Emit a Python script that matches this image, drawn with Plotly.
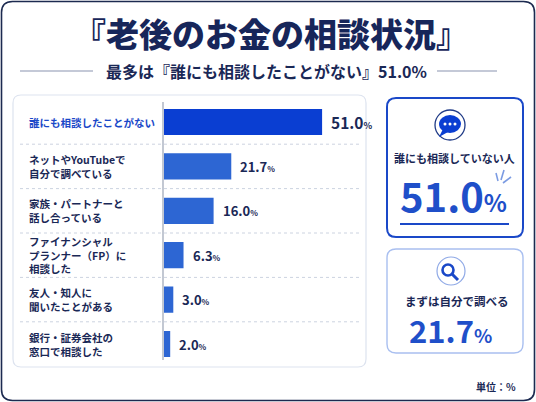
import plotly.graph_objects as go

# ---------------- data ----------------
categories = [
    "誰にも相談したことがない",
    "ネットやYouTubeで<br>自分で調べている",
    "家族・パートナーと<br>話し合っている",
    "ファイナンシャル<br>プランナー（FP）に<br>相談した",
    "友人・知人に<br>聞いたことがある",
    "銀行・証券会社の<br>窓口で相談した",
]
values = [51.0, 21.7, 16.0, 6.3, 3.0, 2.0]
title_text = "『老後のお金の相談状況』"
subtitle_text = "最多は『誰にも相談したことがない』51.0%"
card1_label = "誰にも相談していない人"
card1_value = 51.0
card2_label = "まずは自分で調べる"
card2_value = 21.7
unit_text = "単位：%"

# ---------------- style ----------------
W, H = 536, 402
FONT = "Noto Sans CJK JP, Noto Sans, sans-serif"
NAVY = "#1a2856"
BLUE_MAIN = "#0a3ed2"
BLUE_BAR = "#2d66d3"
BLUE_TEXT = "#1a48c8"
BLUE_BIG = "#1f4fc9"


def X(px):
    return px / W


def Y(py):
    return 1 - py / H


def rrect(x0, y0, x1, y1, r):
    return (
        f"M {X(x0 + r)},{Y(y0)} L {X(x1 - r)},{Y(y0)} "
        f"Q {X(x1)},{Y(y0)} {X(x1)},{Y(y0 + r)} L {X(x1)},{Y(y1 - r)} "
        f"Q {X(x1)},{Y(y1)} {X(x1 - r)},{Y(y1)} L {X(x0 + r)},{Y(y1)} "
        f"Q {X(x0)},{Y(y1)} {X(x0)},{Y(y1 - r)} L {X(x0)},{Y(y0 + r)} "
        f"Q {X(x0)},{Y(y0)} {X(x0 + r)},{Y(y0)} Z"
    )


def circ(cx, cy, r, **kw):
    d = dict(type="circle", xref="paper", yref="paper",
             x0=X(cx - r), x1=X(cx + r), y0=Y(cy + r), y1=Y(cy - r))
    d.update(kw)
    return d


def pline(x0, y0, x1, y1, color, width, dash="solid", layer="above"):
    return dict(type="line", xref="paper", yref="paper",
                x0=X(x0), y0=Y(y0), x1=X(x1), y1=Y(y1),
                line=dict(color=color, width=width, dash=dash), layer=layer)


colors = [BLUE_MAIN] + [BLUE_BAR] * (len(values) - 1)

fig = go.Figure()
fig.add_trace(go.Bar(
    x=values, y=categories, orientation="h",
    marker=dict(color=colors, line=dict(width=0)),
    width=0.59, hoverinfo="skip",
))

row_h = 44.4
plot_top = 122 - row_h / 2
plot_bot = plot_top + row_h * len(categories)
x_px0, x_px1 = 164, 360
px_per_unit = 3.1

fig.update_layout(
    width=W, height=H, autosize=False,
    margin=dict(l=0, r=0, t=0, b=0),
    paper_bgcolor="white", plot_bgcolor="rgba(0,0,0,0)",
    showlegend=False,
    font=dict(family=FONT, color=NAVY),
    xaxis=dict(domain=[X(x_px0), X(x_px1)],
               range=[0, (x_px1 - x_px0) / px_per_unit],
               visible=False, fixedrange=True),
    yaxis=dict(domain=[Y(plot_bot), Y(plot_top)], type="category",
               range=[len(categories) - 0.5, -0.5],
               visible=False, fixedrange=True),
)

shapes = []
# outer frame
shapes.append(dict(type="path", xref="paper", yref="paper",
                   path=rrect(1.5, 1.5, W - 1.5, H - 1.5, 11),
                   line=dict(color="#1c2a50", width=1.6),
                   fillcolor="white", layer="below"))
# left panel
shapes.append(dict(type="path", xref="paper", yref="paper",
                   path=rrect(13, 95, 366, 367, 8),
                   line=dict(color="#dde3ef", width=1.2),
                   fillcolor="white", layer="below"))
# subtitle rules
shapes.append(pline(20, 71, 93, 71, "#8a94b0", 1.2))
shapes.append(pline(437, 71, 497, 71, "#8a94b0", 1.2))
# row separators
for i in range(len(categories) - 1):
    shapes.append(dict(type="line", xref="paper", yref="y",
                       x0=X(20), x1=X(362), y0=i + 0.5, y1=i + 0.5,
                       line=dict(color="#ccd3e0", width=1, dash="dot"),
                       layer="below"))
# axis line
shapes.append(pline(163, 102, 163, 360, "#9aa3b5", 1.2))

# card 1
shapes.append(dict(type="path", xref="paper", yref="paper",
                   path=rrect(387, 98, 523, 237, 9),
                   line=dict(color=BLUE_TEXT, width=2),
                   fillcolor="white", layer="below"))
shapes.append(circ(450, 125, 15, line=dict(color="#1f3a86", width=1.3),
                   fillcolor="white"))
shapes.append(dict(type="path", xref="paper", yref="paper",
                   path=f"M {X(443)},{Y(129)} L {X(439)},{Y(137)} L {X(448)},{Y(132)} Z",
                   line=dict(width=0), fillcolor=BLUE_MAIN))
shapes.append(dict(type="circle", xref="paper", yref="paper",
                   x0=X(439), x1=X(461), y0=Y(133), y1=Y(115),
                   line=dict(width=0), fillcolor=BLUE_MAIN))
for dx in (-5, 0, 5):
    shapes.append(circ(450 + dx, 124, 1.5, line=dict(width=0), fillcolor="white"))
shapes.append(pline(400, 224, 509, 224, BLUE_TEXT, 2))
# sparkle
shapes.append(pline(496, 173, 498, 181, "#7b9be2", 1.6))
shapes.append(pline(504, 170, 501, 180, "#7b9be2", 1.6))
shapes.append(pline(511, 177, 503, 183, "#7b9be2", 1.6))

# card 2
shapes.append(dict(type="path", xref="paper", yref="paper",
                   path=rrect(387, 249, 523, 353, 9),
                   line=dict(color="#a9bff0", width=1.4),
                   fillcolor="white", layer="below"))
shapes.append(circ(451, 271, 14, line=dict(color="#8fa9e6", width=1.2),
                   fillcolor="white"))
shapes.append(circ(448, 270, 5.5, line=dict(color=BLUE_TEXT, width=2.6),
                   fillcolor="rgba(0,0,0,0)"))
shapes.append(pline(452, 274, 458, 280, BLUE_TEXT, 3))

fig.update_layout(shapes=shapes)

ann = []
# title & subtitle
ann.append(dict(xref="paper", yref="paper", x=X(271), y=Y(33),
                text=title_text, showarrow=False,
                xanchor="center", yanchor="middle",
                font=dict(size=33, color="#17265a", family=FONT, weight=900)))
ann.append(dict(xref="paper", yref="paper", x=X(266), y=Y(71),
                text=subtitle_text, showarrow=False,
                xanchor="center", yanchor="middle",
                font=dict(size=16, color=NAVY, family=FONT, weight=700)))

# category labels
for i, lab in enumerate(categories):
    ann.append(dict(xref="paper", yref="y", x=X(27), y=lab,
                    text=lab, showarrow=False, align="left",
                    xanchor="left", yanchor="middle",
                    font=dict(size=10.5, family=FONT, weight=700,
                              color=BLUE_TEXT if i == 0 else NAVY)))

# value labels
for i, (lab, v) in enumerate(zip(categories, values)):
    if i == 0:
        txt = f"{v:.1f}<span style='font-size:9px'>%</span>"
        fs = 15.5
    else:
        txt = f"{v:.1f}<span style='font-size:8px'>%</span>"
        fs = 13
    ann.append(dict(xref="x", yref="y", x=v, y=lab, xshift=7,
                    text=txt, showarrow=False,
                    xanchor="left", yanchor="middle",
                    font=dict(size=fs, family=FONT, weight=700, color=NAVY)))

# card texts
ann.append(dict(xref="paper", yref="paper", x=X(454), y=Y(158),
                text=card1_label, showarrow=False,
                xanchor="center", yanchor="middle",
                font=dict(size=11, family=FONT, weight=700, color=NAVY)))
ann.append(dict(xref="paper", yref="paper", x=X(453), y=Y(195),
                text=f"{card1_value:.1f}<span style='font-size:24px'>%</span>",
                showarrow=False, xanchor="center", yanchor="middle",
                font=dict(size=40, family=FONT, weight=700, color=BLUE_BIG)))
ann.append(dict(xref="paper", yref="paper", x=X(457), y=Y(301),
                text=card2_label, showarrow=False,
                xanchor="center", yanchor="middle",
                font=dict(size=11.5, family=FONT, weight=700, color=NAVY)))
ann.append(dict(xref="paper", yref="paper", x=X(450), y=Y(329),
                text=f"{card2_value:.1f}<span style='font-size:19px'>%</span>",
                showarrow=False, xanchor="center", yanchor="middle",
                font=dict(size=31, family=FONT, weight=700, color=BLUE_BIG)))
ann.append(dict(xref="paper", yref="paper", x=X(518), y=Y(386),
                text=unit_text, showarrow=False,
                xanchor="right", yanchor="middle",
                font=dict(size=10, family=FONT, weight=700, color=NAVY)))

fig.update_layout(annotations=ann)

fig.write_html(
    "out.html",
    config={"displayModeBar": False, "staticPlot": True},
    post_script="document.body.style.margin='0';document.body.style.overflow='hidden';",
)
